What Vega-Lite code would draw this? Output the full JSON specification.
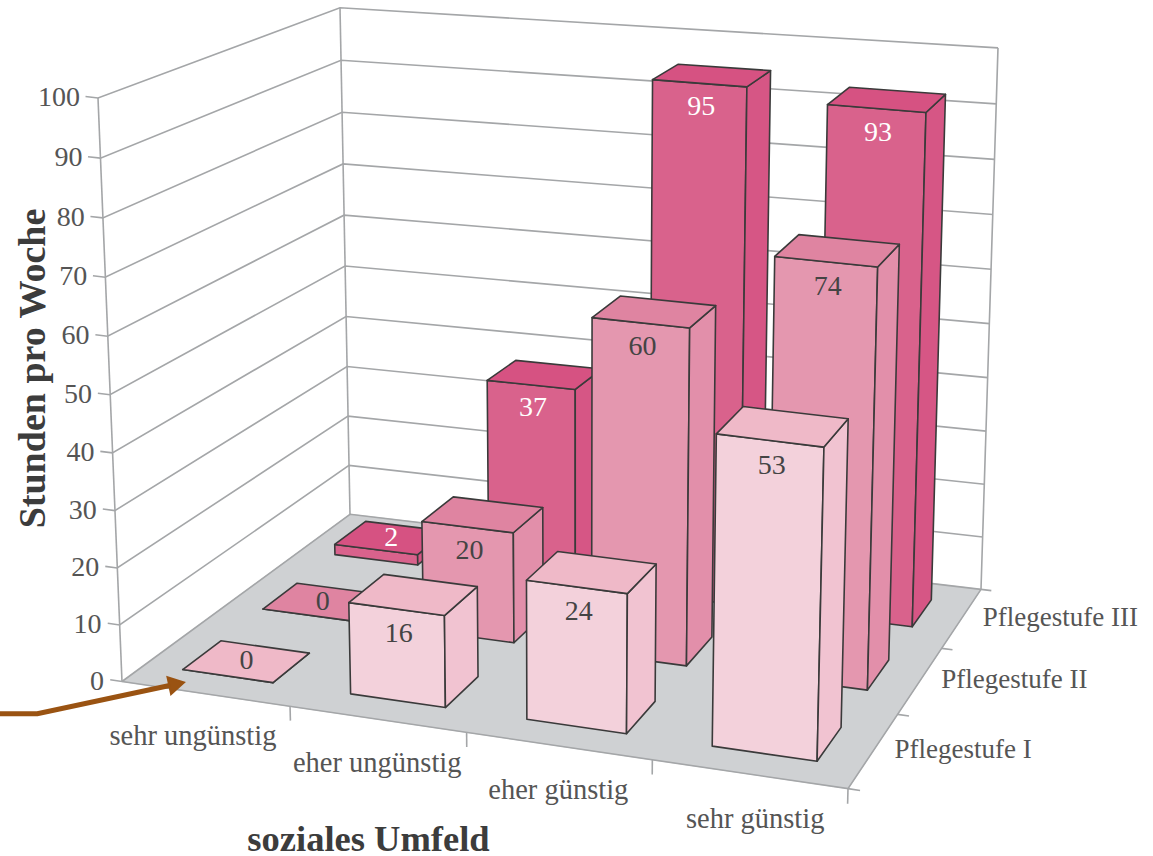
{
"$schema":"https://vega.github.io/schema/vega-lite/v6.json",
"width":1153,"height":856,"autosize":{"type":"none"},"padding":0,"background":"white",
"config":{"view":{"stroke":null}},
"datasets":{
"bars":[
{"Umfeld":"sehr ungünstig","Pflegestufe":"Pflegestufe III","Stunden":2},
{"Umfeld":"eher ungünstig","Pflegestufe":"Pflegestufe III","Stunden":37},
{"Umfeld":"eher günstig","Pflegestufe":"Pflegestufe III","Stunden":95},
{"Umfeld":"sehr günstig","Pflegestufe":"Pflegestufe III","Stunden":93},
{"Umfeld":"sehr ungünstig","Pflegestufe":"Pflegestufe II","Stunden":0},
{"Umfeld":"eher ungünstig","Pflegestufe":"Pflegestufe II","Stunden":20},
{"Umfeld":"eher günstig","Pflegestufe":"Pflegestufe II","Stunden":60},
{"Umfeld":"sehr günstig","Pflegestufe":"Pflegestufe II","Stunden":74},
{"Umfeld":"sehr ungünstig","Pflegestufe":"Pflegestufe I","Stunden":0},
{"Umfeld":"eher ungünstig","Pflegestufe":"Pflegestufe I","Stunden":16},
{"Umfeld":"eher günstig","Pflegestufe":"Pflegestufe I","Stunden":24},
{"Umfeld":"sehr günstig","Pflegestufe":"Pflegestufe I","Stunden":53}
],
"floor":[{"k":0,"u":0,"v":0,"h":0},{"k":1,"u":1,"v":0,"h":0},{"k":2,"u":1,"v":1,"h":0},{"k":3,"u":0,"v":1,"h":0}],
"frame":[
{"id":"g0","k":0,"u":0,"v":0,"h":0},{"id":"g0","k":1,"u":0,"v":1,"h":0},{"id":"g0","k":2,"u":1,"v":1,"h":0},
{"id":"g10","k":0,"u":-0.018,"v":0,"h":10},{"id":"g10","k":1,"u":0,"v":0,"h":10},{"id":"g10","k":2,"u":0,"v":1,"h":10},{"id":"g10","k":3,"u":1,"v":1,"h":10},
{"id":"g20","k":0,"u":-0.018,"v":0,"h":20},{"id":"g20","k":1,"u":0,"v":0,"h":20},{"id":"g20","k":2,"u":0,"v":1,"h":20},{"id":"g20","k":3,"u":1,"v":1,"h":20},
{"id":"g30","k":0,"u":-0.018,"v":0,"h":30},{"id":"g30","k":1,"u":0,"v":0,"h":30},{"id":"g30","k":2,"u":0,"v":1,"h":30},{"id":"g30","k":3,"u":1,"v":1,"h":30},
{"id":"g40","k":0,"u":-0.018,"v":0,"h":40},{"id":"g40","k":1,"u":0,"v":0,"h":40},{"id":"g40","k":2,"u":0,"v":1,"h":40},{"id":"g40","k":3,"u":1,"v":1,"h":40},
{"id":"g50","k":0,"u":-0.018,"v":0,"h":50},{"id":"g50","k":1,"u":0,"v":0,"h":50},{"id":"g50","k":2,"u":0,"v":1,"h":50},{"id":"g50","k":3,"u":1,"v":1,"h":50},
{"id":"g60","k":0,"u":-0.018,"v":0,"h":60},{"id":"g60","k":1,"u":0,"v":0,"h":60},{"id":"g60","k":2,"u":0,"v":1,"h":60},{"id":"g60","k":3,"u":1,"v":1,"h":60},
{"id":"g70","k":0,"u":-0.018,"v":0,"h":70},{"id":"g70","k":1,"u":0,"v":0,"h":70},{"id":"g70","k":2,"u":0,"v":1,"h":70},{"id":"g70","k":3,"u":1,"v":1,"h":70},
{"id":"g80","k":0,"u":-0.018,"v":0,"h":80},{"id":"g80","k":1,"u":0,"v":0,"h":80},{"id":"g80","k":2,"u":0,"v":1,"h":80},{"id":"g80","k":3,"u":1,"v":1,"h":80},
{"id":"g90","k":0,"u":-0.018,"v":0,"h":90},{"id":"g90","k":1,"u":0,"v":0,"h":90},{"id":"g90","k":2,"u":0,"v":1,"h":90},{"id":"g90","k":3,"u":1,"v":1,"h":90},
{"id":"g100","k":0,"u":-0.018,"v":0,"h":100},{"id":"g100","k":1,"u":0,"v":0,"h":100},{"id":"g100","k":2,"u":0,"v":1,"h":100},{"id":"g100","k":3,"u":1,"v":1,"h":100},
{"id":"t0","k":0,"u":-0.018,"v":0,"h":0},{"id":"t0","k":1,"u":0,"v":0,"h":0},
{"id":"e0","k":0,"u":0,"v":0,"h":0},{"id":"e0","k":1,"u":0,"v":0,"h":100},
{"id":"e1","k":0,"u":0,"v":1,"h":0},{"id":"e1","k":1,"u":0,"v":1,"h":100},
{"id":"e2","k":0,"u":1,"v":1,"h":0},{"id":"e2","k":1,"u":1,"v":1,"h":100},
{"id":"f0","k":0,"u":0,"v":0,"h":0},{"id":"f0","k":1,"u":1,"v":0,"h":0},{"id":"f0","k":2,"u":1,"v":1,"h":0},
{"id":"x1","k":0,"u":0.25,"v":0,"h":0},{"id":"x1","k":1,"u":0.25,"v":0,"h":-2.5},
{"id":"x2","k":0,"u":0.5,"v":0,"h":0},{"id":"x2","k":1,"u":0.5,"v":0,"h":-2.5},
{"id":"x3","k":0,"u":0.75,"v":0,"h":0},{"id":"x3","k":1,"u":0.75,"v":0,"h":-2.5},
{"id":"x4","k":0,"u":1,"v":0,"h":0},{"id":"x4","k":1,"u":1,"v":0,"h":-2.5},
{"id":"z0","k":0,"u":1,"v":0,"h":0},{"id":"z0","k":1,"u":1.015,"v":0,"h":0},
{"id":"z1","k":0,"u":1,"v":0.3333,"h":0},{"id":"z1","k":1,"u":1.015,"v":0.3333,"h":0},
{"id":"z2","k":0,"u":1,"v":0.6667,"h":0},{"id":"z2","k":1,"u":1.015,"v":0.6667,"h":0},
{"id":"z3","k":0,"u":1,"v":1,"h":0},{"id":"z3","k":1,"u":1.015,"v":1,"h":0}
],
"ticks":[{"h":0},{"h":10},{"h":20},{"h":30},{"h":40},{"h":50},{"h":60},{"h":70},{"h":80},{"h":90},{"h":100}],
"umfeld":[{"Umfeld":"sehr ungünstig","u":0.107},{"Umfeld":"eher ungünstig","u":0.375},{"Umfeld":"eher günstig","u":0.625},{"Umfeld":"sehr günstig","u":0.883}],
"stufe":[{"Pflegestufe":"Pflegestufe I","v":0.1667},{"Pflegestufe":"Pflegestufe II","v":0.5},{"Pflegestufe":"Pflegestufe III","v":0.8333}],
"arrow":[{"k":0,"u":-0.0977,"v":-0.2085,"h":0},{"k":1,"u":-0.0503,"v":-0.185,"h":0},{"k":2,"u":0.0735,"v":0.0234,"h":0}],
"arrowhead":[{"u":0.0735,"v":0.0234,"h":0}]
},
"encoding":{
"x":{"field":"x","type":"quantitative","scale":{"domain":[0,1153]},"axis":{"title":"soziales Umfeld","labels":false,"ticks":false,"domain":false,"grid":false,"titleFont":"Liberation Serif","titleFontSize":36.5,"titleFontWeight":"bold","titleColor":"#3c3c3c","titleX":368,"titleY":-35}},
"y":{"field":"y","type":"quantitative","scale":{"domain":[0,856],"reverse":true},"axis":{"title":"Stunden pro Woche","labels":false,"ticks":false,"domain":false,"grid":false,"titleFont":"Liberation Serif","titleFontSize":38,"titleFontWeight":"bold","titleColor":"#3c3c3c","titleX":52,"titleY":368}}
},
"layer":[
{"data":{"name":"floor"},
"transform":[
{"calculate":"(644.25*datum.u+287.81*datum.v+122)/(1-0.0964*datum.u+0.17088*datum.v)+datum.h/100*(-24+38.9*datum.u+14*datum.v-11.9*datum.u*datum.v)","as":"x"},
{"calculate":"(31.13*datum.u-79.34*datum.v+681.5)/(1-0.0964*datum.u+0.17088*datum.v)-datum.h/100*(583.5+17*datum.u-77*datum.v+18*datum.u*datum.v)+datum.h*(100-datum.h)/500*(1-datum.u*(1-datum.v))","as":"y"}],
"mark":{"type":"line","interpolate":"linear-closed","fill":"#cfd1d3","stroke":"#cfd1d3","strokeWidth":1},
"encoding":{"order":{"field":"k"}}},
{"data":{"name":"frame"},
"transform":[
{"calculate":"(644.25*datum.u+287.81*datum.v+122)/(1-0.0964*datum.u+0.17088*datum.v)+datum.h/100*(-24+38.9*datum.u+14*datum.v-11.9*datum.u*datum.v)","as":"x"},
{"calculate":"(31.13*datum.u-79.34*datum.v+681.5)/(1-0.0964*datum.u+0.17088*datum.v)-datum.h/100*(583.5+17*datum.u-77*datum.v+18*datum.u*datum.v)+datum.h*(100-datum.h)/500*(1-datum.u*(1-datum.v))","as":"y"}],
"mark":{"type":"line","stroke":"#a4a6a8","strokeWidth":1.6},
"encoding":{"detail":{"field":"id"},"order":{"field":"k"}}},
{"data":{"name":"bars"},
"transform":[
{"calculate":"indexof(['sehr ungünstig','eher ungünstig','eher günstig','sehr günstig'],datum.Umfeld)","as":"i"},
{"calculate":"indexof(['Pflegestufe I','Pflegestufe II','Pflegestufe III'],datum.Pflegestufe)","as":"j"},
{"calculate":"[{f:'front',k:0,a:-1,b:-1,t:0},{f:'front',k:1,a:1,b:-1,t:0},{f:'front',k:2,a:1,b:-1,t:1},{f:'front',k:3,a:-1,b:-1,t:1},{f:'right',k:0,a:1,b:-1,t:0},{f:'right',k:1,a:1,b:1,t:0},{f:'right',k:2,a:1,b:1,t:1},{f:'right',k:3,a:1,b:-1,t:1},{f:'top',k:0,a:-1,b:-1,t:1},{f:'top',k:1,a:1,b:-1,t:1},{f:'top',k:2,a:1,b:1,t:1},{f:'top',k:3,a:-1,b:1,t:1}]","as":"c"},
{"flatten":["c"]},
{"calculate":"(datum.i+0.5)/4+datum.c.a*0.068","as":"u"},
{"calculate":"(datum.j+0.5)/3+datum.c.b*0.077","as":"v"},
{"calculate":"datum.c.t*datum.Stunden","as":"h"},
{"calculate":"datum.c.k","as":"k"},
{"calculate":"datum.Pflegestufe+' '+datum.c.f","as":"face"},
{"calculate":"datum.face+' '+datum.Umfeld","as":"poly"},
{"calculate":"(644.25*datum.u+287.81*datum.v+122)/(1-0.0964*datum.u+0.17088*datum.v)+datum.h/100*(-24+38.9*datum.u+14*datum.v-11.9*datum.u*datum.v)","as":"x"},
{"calculate":"(31.13*datum.u-79.34*datum.v+681.5)/(1-0.0964*datum.u+0.17088*datum.v)-datum.h/100*(583.5+17*datum.u-77*datum.v+18*datum.u*datum.v)+datum.h*(100-datum.h)/500*(1-datum.u*(1-datum.v))","as":"y"}],
"mark":{"type":"line","interpolate":"linear-closed","stroke":"#3a3a3a","strokeWidth":1.6,"strokeJoin":"round"},
"encoding":{"detail":{"field":"poly"},"order":{"field":"k"},
"fill":{"field":"face","type":"nominal","legend":null,"scale":{
"domain":["Pflegestufe III front","Pflegestufe III right","Pflegestufe III top","Pflegestufe II front","Pflegestufe II right","Pflegestufe II top","Pflegestufe I front","Pflegestufe I right","Pflegestufe I top"],
"range":["#d9628c","#d65685","#d65282","#e497af","#e28faa","#df84a1","#f3d1db","#f1c3d1","#efb9c8"]}}}},
{"data":{"name":"bars"},
"transform":[
{"calculate":"indexof(['sehr ungünstig','eher ungünstig','eher günstig','sehr günstig'],datum.Umfeld)","as":"i"},
{"calculate":"indexof(['Pflegestufe I','Pflegestufe II','Pflegestufe III'],datum.Pflegestufe)","as":"j"},
{"calculate":"(datum.i+0.5)/4+(datum.Stunden<5?0:0.003)","as":"u"},
{"calculate":"(datum.j+0.5)/3-(datum.Stunden<5?0:0.077)","as":"v"},
{"calculate":"datum.Stunden<5?datum.Stunden:datum.Stunden-4.3","as":"h"},
{"calculate":"(644.25*datum.u+287.81*datum.v+122)/(1-0.0964*datum.u+0.17088*datum.v)+datum.h/100*(-24+38.9*datum.u+14*datum.v-11.9*datum.u*datum.v)","as":"x"},
{"calculate":"(31.13*datum.u-79.34*datum.v+681.5)/(1-0.0964*datum.u+0.17088*datum.v)-datum.h/100*(583.5+17*datum.u-77*datum.v+18*datum.u*datum.v)+datum.h*(100-datum.h)/500*(1-datum.u*(1-datum.v))","as":"y"}],
"mark":{"type":"text","font":"Liberation Serif","fontSize":28,"align":"center","baseline":"middle"},
"encoding":{"text":{"field":"Stunden","type":"quantitative"},
"color":{"field":"Pflegestufe","type":"nominal","legend":null,"scale":{"domain":["Pflegestufe I","Pflegestufe II","Pflegestufe III"],"range":["#444444","#444444","#ffffff"]}}}},
{"data":{"name":"ticks"},
"transform":[
{"calculate":"0","as":"u"},{"calculate":"0","as":"v"},
{"calculate":"(644.25*datum.u+287.81*datum.v+122)/(1-0.0964*datum.u+0.17088*datum.v)+datum.h/100*(-24+38.9*datum.u+14*datum.v-11.9*datum.u*datum.v)","as":"x"},
{"calculate":"(31.13*datum.u-79.34*datum.v+681.5)/(1-0.0964*datum.u+0.17088*datum.v)-datum.h/100*(583.5+17*datum.u-77*datum.v+18*datum.u*datum.v)+datum.h*(100-datum.h)/500*(1-datum.u*(1-datum.v))","as":"y"}],
"mark":{"type":"text","font":"Liberation Serif","fontSize":28,"align":"right","baseline":"middle","dx":-18,"color":"#555555"},
"encoding":{"text":{"field":"h","type":"quantitative"}}},
{"data":{"name":"umfeld"},
"transform":[
{"calculate":"0","as":"v"},{"calculate":"0","as":"h"},
{"calculate":"(644.25*datum.u+287.81*datum.v+122)/(1-0.0964*datum.u+0.17088*datum.v)+datum.h/100*(-24+38.9*datum.u+14*datum.v-11.9*datum.u*datum.v)","as":"x"},
{"calculate":"(31.13*datum.u-79.34*datum.v+681.5)/(1-0.0964*datum.u+0.17088*datum.v)-datum.h/100*(583.5+17*datum.u-77*datum.v+18*datum.u*datum.v)+datum.h*(100-datum.h)/500*(1-datum.u*(1-datum.v))","as":"y"}],
"mark":{"type":"text","font":"Liberation Serif","fontSize":28.5,"align":"center","baseline":"middle","dy":44,"color":"#555555"},
"encoding":{"text":{"field":"Umfeld","type":"nominal"}}},
{"data":{"name":"stufe"},
"transform":[
{"calculate":"1","as":"u"},{"calculate":"0","as":"h"},
{"calculate":"(644.25*datum.u+287.81*datum.v+122)/(1-0.0964*datum.u+0.17088*datum.v)+datum.h/100*(-24+38.9*datum.u+14*datum.v-11.9*datum.u*datum.v)","as":"x"},
{"calculate":"(31.13*datum.u-79.34*datum.v+681.5)/(1-0.0964*datum.u+0.17088*datum.v)-datum.h/100*(583.5+17*datum.u-77*datum.v+18*datum.u*datum.v)+datum.h*(100-datum.h)/500*(1-datum.u*(1-datum.v))","as":"y"}],
"mark":{"type":"text","font":"Liberation Serif","fontSize":27,"align":"left","baseline":"middle","dx":21,"color":"#555555"},
"encoding":{"text":{"field":"Pflegestufe","type":"nominal"}}},
{"data":{"name":"arrow"},
"transform":[
{"calculate":"(644.25*datum.u+287.81*datum.v+122)/(1-0.0964*datum.u+0.17088*datum.v)+datum.h/100*(-24+38.9*datum.u+14*datum.v-11.9*datum.u*datum.v)","as":"x"},
{"calculate":"(31.13*datum.u-79.34*datum.v+681.5)/(1-0.0964*datum.u+0.17088*datum.v)-datum.h/100*(583.5+17*datum.u-77*datum.v+18*datum.u*datum.v)+datum.h*(100-datum.h)/500*(1-datum.u*(1-datum.v))","as":"y"}],
"mark":{"type":"line","stroke":"#9a5312","strokeWidth":5},
"encoding":{"order":{"field":"k"}}},
{"data":{"name":"arrowhead"},
"transform":[
{"calculate":"(644.25*datum.u+287.81*datum.v+122)/(1-0.0964*datum.u+0.17088*datum.v)+datum.h/100*(-24+38.9*datum.u+14*datum.v-11.9*datum.u*datum.v)","as":"x"},
{"calculate":"(31.13*datum.u-79.34*datum.v+681.5)/(1-0.0964*datum.u+0.17088*datum.v)-datum.h/100*(583.5+17*datum.u-77*datum.v+18*datum.u*datum.v)+datum.h*(100-datum.h)/500*(1-datum.u*(1-datum.v))","as":"y"}],
"mark":{"type":"point","shape":"triangle-up","filled":true,"fill":"#9a5312","stroke":"#9a5312","opacity":1,"size":300,"angle":78}}
]
}
